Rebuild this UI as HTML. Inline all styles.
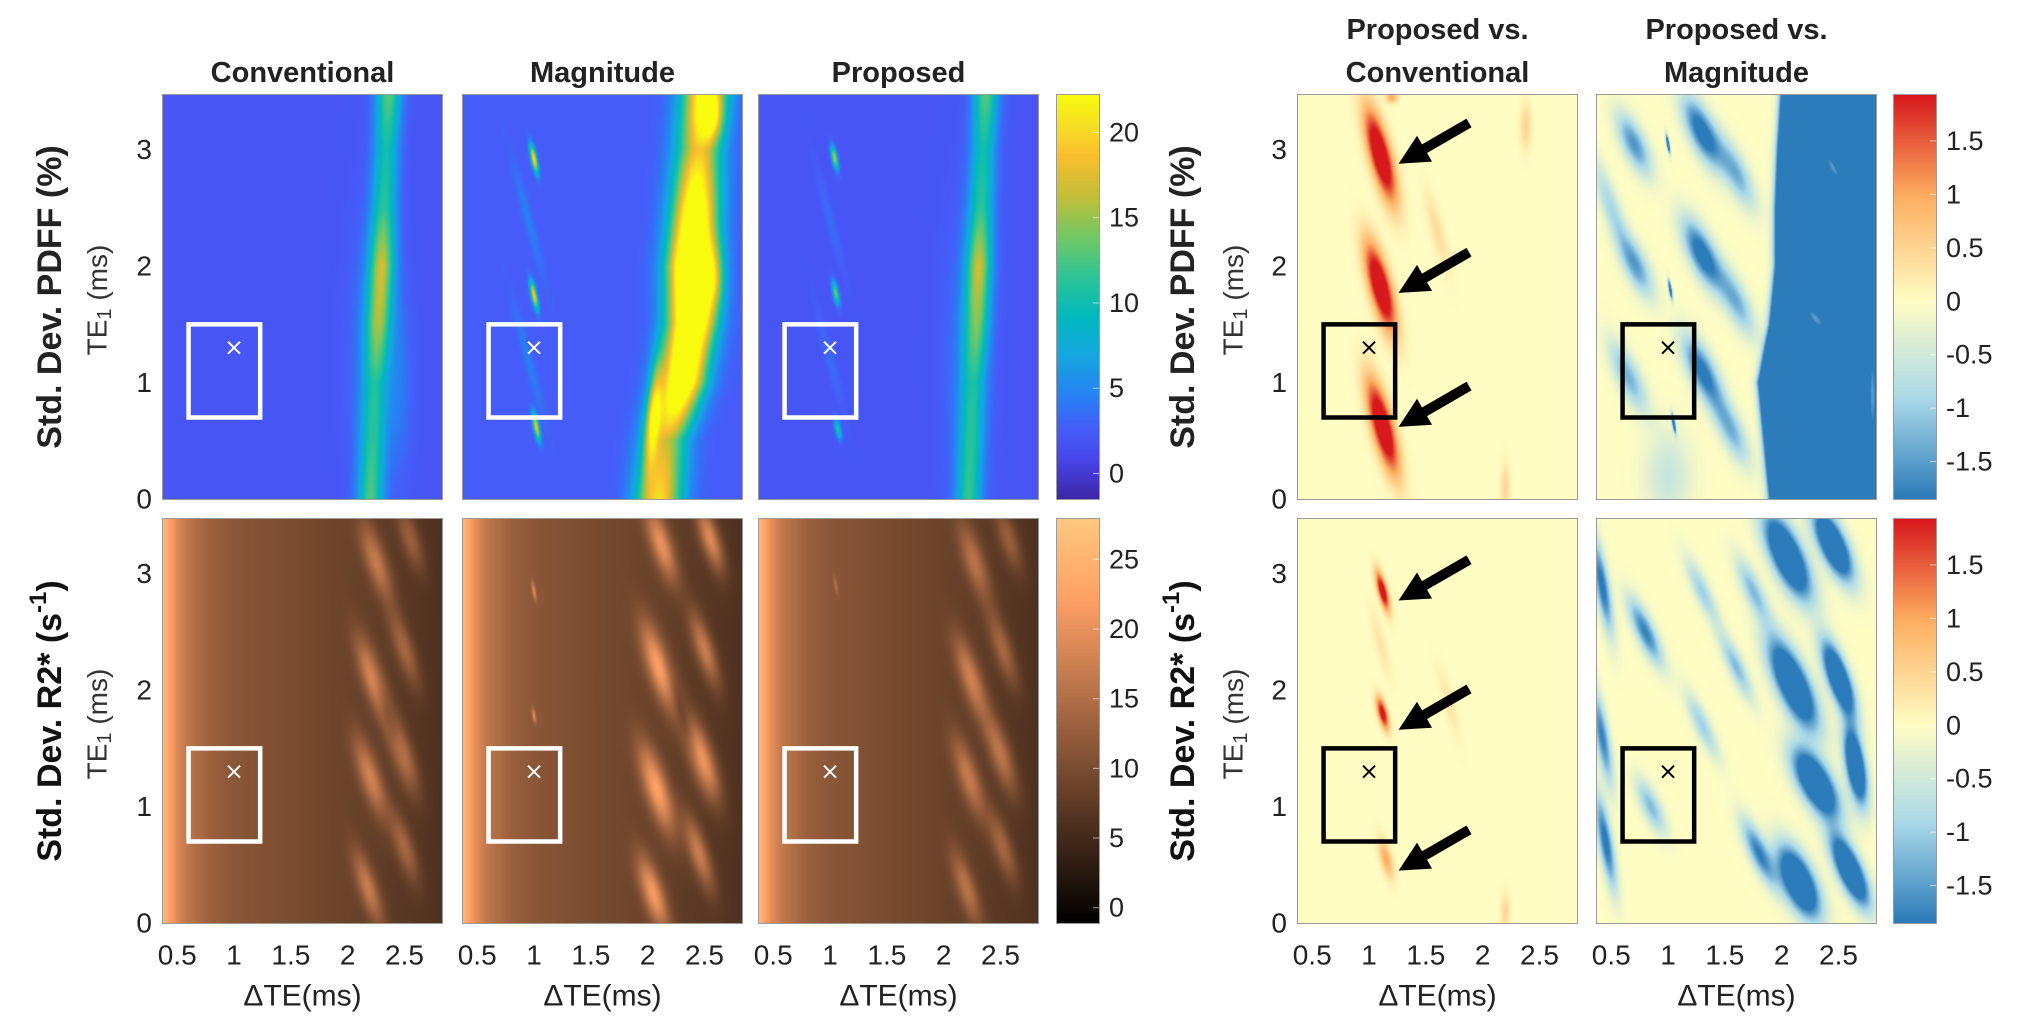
<!DOCTYPE html>
<html><head><meta charset="utf-8">
<style>
html,body{margin:0;padding:0;background:#fff;}
#root{position:relative;width:2026px;height:1030px;overflow:hidden;background:#fff;font-family:"Liberation Sans",sans-serif;}
canvas{position:absolute;display:block;}
svg{position:absolute;left:0;top:0;}
</style></head>
<body>
<div id="root">
<svg id="ov" width="2026" height="1030"></svg>
</div>
<script>
// ---------- data ----------
const xDomain=[0.375,2.83];
const yDomain=[0,3.47];
const xTicks=[0.5,1,1.5,2,2.5];
const xTickLabels=['0.5','1','1.5','2','2.5'];
const yTicks=[0,1,2,3];
const pdffRange=[-1.5,22.2];
const pdffTicks=[0,5,10,15,20];
const r2Range=[-1.1,27.9];
const r2Ticks=[0,5,10,15,20,25];
const diffRange=[-1.85,1.93];
const diffTicks=[-1.5,-1,-0.5,0,0.5,1,1.5];
const diffTickLabels=['-1.5','-1','-0.5','0','0.5','1','1.5'];
const boxX=[0.6,1.23];
const boxY=[0.7,1.5];
const markX=1.0, markY=1.3;
const bandY=[0,0.5,1,1.5,2,2.5,3,3.47];
const convBandX=[2.2,2.22,2.24,2.27,2.3,2.32,2.34,2.36];
const convBandAmp=[10,8,7,12,14,9,8,11];
const propBandX=[2.22,2.24,2.26,2.29,2.31,2.33,2.35,2.37];
const propBandAmp=[9,8,7,11,14,9,8,11];
const magBandX=[2.1,2.15,2.3,2.38,2.38,2.42,2.45,2.5];
const magBandAmp=[18,14,26,28,30,24,16,20];
const convBlobs=[[2.45,1.0,0.12,0.8,0,2],[2.2,1.2,0.2,1.2,0,2]];
const magBlobs=[[1.0,2.92,0.025,0.12,12,18],[1.0,1.75,0.025,0.12,12,17],[1.02,0.62,0.025,0.12,12,16],[0.95,2.4,0.04,0.5,15,2],[0.95,1.2,0.04,0.5,15,2],[2.05,0.7,0.06,0.45,-5,12],[2.55,3.3,0.1,0.2,0,10],[2.55,1.9,0.12,0.3,0,10]];
const propBlobs=[[1.04,2.93,0.025,0.1,12,14],[1.05,1.77,0.025,0.1,12,12],[1.07,0.6,0.025,0.09,12,9],[1.0,2.4,0.04,0.45,15,1.5],[1.0,1.2,0.04,0.45,15,1.5],[2.2,1.2,0.2,1.2,0,2]];
const r2BaseX=[0.375,0.42,0.5,0.6,0.8,1,1.5,2,2.5,2.83];
const convR2Base=[26,23,19,16,13,11.5,10,8.5,7,6];
const magR2Base=[26,23,19,16,13,11.5,10,8.5,7,6];
const propR2Base=[26,23,19,16,13,11.5,10,8.5,7,6];
const convR2Blobs=[[2.18,0.3,0.08,0.32,18,9],[2.2,1.25,0.09,0.35,18,10],[2.22,2.1,0.09,0.36,18,11],[2.25,3.1,0.09,0.34,18,9],[2.5,0.65,0.08,0.3,18,7],[2.48,1.45,0.09,0.34,18,9],[2.5,2.35,0.08,0.32,18,7],[2.55,3.3,0.08,0.28,18,6],[2.35,1.8,0.05,0.4,18,-3]];
const magR2Blobs=[[2.05,0.25,0.09,0.32,18,13],[2.08,1.15,0.1,0.38,18,14],[2.1,2.2,0.1,0.38,18,14],[2.12,3.25,0.09,0.32,18,12],[2.45,0.6,0.08,0.32,18,10],[2.48,1.4,0.1,0.35,18,14],[2.5,2.35,0.08,0.32,18,10],[2.55,3.3,0.08,0.28,18,12],[1.0,2.85,0.015,0.08,10,8],[1.0,1.78,0.015,0.06,10,8],[2.3,1.8,0.05,0.5,18,-3]];
const propR2Blobs=[[2.2,0.3,0.08,0.32,18,8],[2.22,1.25,0.09,0.35,18,9],[2.24,2.1,0.09,0.36,18,10],[2.27,3.1,0.09,0.34,18,8],[2.52,0.65,0.08,0.3,18,7],[2.5,1.45,0.09,0.34,18,9],[2.52,2.35,0.08,0.32,18,7],[2.57,3.3,0.08,0.28,18,6],[1.05,2.9,0.015,0.08,10,4]];
const diffPdffConvBlobs=[[1.1,2.95,0.09,0.4,15,2.8],[1.1,1.82,0.09,0.38,15,2.8],[1.12,0.62,0.09,0.4,15,2.8],[1.6,2.3,0.06,0.35,15,0.4],[2.38,3.2,0.05,0.2,0,0.5],[2.2,0.1,0.04,0.2,0,0.5],[1.2,3.45,0.05,0.05,0,1]];
const diffPdffMagBlobs=[[0.7,3.05,0.1,0.28,25,-1.6],[0.72,2.0,0.1,0.28,25,-1.4],[0.65,1.05,0.1,0.32,25,-1.3],[0.5,2.5,0.08,0.45,20,-0.9],[1.3,3.15,0.11,0.32,25,-2.2],[1.3,2.1,0.11,0.32,25,-2.2],[1.3,1.1,0.11,0.32,25,-2.0],[1.6,2.8,0.1,0.32,25,-1.3],[1.6,1.7,0.1,0.32,25,-1.3],[1.55,0.6,0.1,0.32,25,-1.3],[1.0,3.05,0.012,0.08,10,-3],[1.02,1.8,0.012,0.08,10,-3],[1.05,0.65,0.012,0.08,10,-3],[2.45,2.85,0.05,0.22,30,2.5],[2.3,1.55,0.07,0.2,40,2.5],[2.8,0.9,0.05,0.6,0,2.5],[1.0,0.2,0.2,0.4,0,-0.6]];
const regionY=[0,0.5,1,1.5,2,2.5,3,3.47];
const regionX=[1.9,1.85,1.8,1.9,1.95,1.95,1.97,2.0];
const diffR2ConvBlobs=[[1.12,2.85,0.04,0.17,15,2.4],[1.12,1.8,0.04,0.14,15,2.2],[1.15,0.55,0.05,0.17,15,1.0],[1.1,2.4,0.05,0.3,15,0.3],[1.7,1.9,0.05,0.3,15,0.3],[2.2,0.1,0.04,0.15,0,0.5]];
const diffR2MagBlobs=[[0.42,2.9,0.06,0.4,10,-2],[0.42,1.6,0.06,0.4,10,-1.8],[0.45,0.7,0.06,0.4,10,-2],[0.8,2.5,0.08,0.3,25,-1.8],[0.85,1.0,0.08,0.25,25,-1.2],[1.3,2.85,0.07,0.3,25,-1.0],[1.3,1.7,0.07,0.3,25,-1.0],[1.6,2.2,0.07,0.3,25,-1.2],[2.05,3.15,0.13,0.38,25,-3.5],[2.45,3.25,0.11,0.32,25,-3.5],[2.1,2.05,0.13,0.4,25,-3.5],[2.5,2.1,0.09,0.32,20,-3.5],[2.3,1.2,0.13,0.32,30,-3.5],[2.65,1.35,0.08,0.32,10,-3.5],[2.15,0.35,0.13,0.32,25,-3.5],[2.6,0.45,0.1,0.32,25,-3.5],[1.8,0.6,0.08,0.3,25,-1.8],[1.75,2.85,0.08,0.3,25,-1.2]];
const arrowTipX=1.26, arrowTailX=1.88;
const topArrowTipY=[2.88,1.77,0.62];
const botArrowTipY=[2.77,1.66,0.45];
const arrowRise=0.35;
// ---------- layout ----------
const PW=279, PH=404, ROWT=[95,519];
const COLL=[163,463,759,1298,1597];
const CBX=[1057,1894], CBW=42;
const NS='http://www.w3.org/2000/svg';
const root=document.getElementById('root'), ov=document.getElementById('ov');
function interp(xs,ys,x){if(x<=xs[0])return ys[0];for(let i=1;i<xs.length;i++){if(x<=xs[i]){const t=(x-xs[i-1])/(xs[i]-xs[i-1]);return ys[i-1]+t*(ys[i]-ys[i-1]);}}return ys[ys.length-1];}
function sx(col,x){return COLL[col]+(x-xDomain[0])/(xDomain[1]-xDomain[0])*PW;}
function sy(row,y){return ROWT[row]+PH-(y-yDomain[0])/(yDomain[1]-yDomain[0])*PH;}
function lerpStops(stops,t){t=Math.max(0,Math.min(1,t));for(let i=1;i<stops.length;i++){if(t<=stops[i][0]){const a=stops[i-1],b=stops[i],f=(t-a[0])/(b[0]-a[0]);return [a[1]+f*(b[1]-a[1]),a[2]+f*(b[2]-a[2]),a[3]+f*(b[3]-a[3])];}}const l=stops[stops.length-1];return [l[1],l[2],l[3]];}
const parula=[[0,62,38,168],[0.1,71,71,235],[0.17,70,92,248],[0.25,40,128,245],[0.35,22,165,225],[0.45,0,185,190],[0.55,45,196,150],[0.65,115,200,100],[0.75,195,190,55],[0.85,250,190,45],[0.93,246,225,35],[1,249,251,14]];
const diffMap=[[0,44,123,186],[0.25,171,217,233],[0.49,255,253,196],[0.75,253,174,97],[1,215,25,28]];
function parulaC(t){return lerpStops(parula,t);}
function copperC(t){t=Math.max(0,Math.min(1,t));return [Math.min(255,1.25*t*255),0.7812*t*255,0.4975*t*255];}
function diffC(t){return lerpStops(diffMap,t);}
function blobSum(blobs,x,y){let v=0;for(const b of blobs){const a=b[4]*Math.PI/180;const dx=x-b[0],dy=y-b[1];const u=dx*Math.cos(a)+dy*Math.sin(a);const w=-dx*Math.sin(a)+dy*Math.cos(a);v+=b[5]*Math.exp(-(u*u/(b[2]*b[2])+w*w/(b[3]*b[3])));}return v;}
function bandVal(bx,bamp,bw,x,y){const c=interp(bandY,bx,y),a=interp(bandY,bamp,y);const d=(x-c)/bw;return a*Math.exp(-d*d);}
const panels=[
 {name:'pdff-conventional',row:0,col:0,range:pdffRange,cmap:parulaC,f:(x,y)=>2+bandVal(convBandX,convBandAmp,0.11,x,y)+blobSum(convBlobs,x,y)},
 {name:'pdff-magnitude',row:0,col:1,range:pdffRange,cmap:parulaC,f:(x,y)=>2.5+bandVal(magBandX,magBandAmp,0.2,x,y)+blobSum(magBlobs,x,y)},
 {name:'pdff-proposed',row:0,col:2,range:pdffRange,cmap:parulaC,f:(x,y)=>2+bandVal(propBandX,propBandAmp,0.11,x,y)+blobSum(propBlobs,x,y)},
 {name:'r2-conventional',row:1,col:0,range:r2Range,cmap:copperC,f:(x,y)=>interp(r2BaseX,convR2Base,x)+blobSum(convR2Blobs,x,y)},
 {name:'r2-magnitude',row:1,col:1,range:r2Range,cmap:copperC,f:(x,y)=>interp(r2BaseX,magR2Base,x)+blobSum(magR2Blobs,x,y)},
 {name:'r2-proposed',row:1,col:2,range:r2Range,cmap:copperC,f:(x,y)=>interp(r2BaseX,propR2Base,x)+blobSum(propR2Blobs,x,y)},
 {name:'pdff-diff-conventional',row:0,col:3,range:diffRange,cmap:diffC,f:(x,y)=>blobSum(diffPdffConvBlobs,x,y)},
 {name:'pdff-diff-magnitude',row:0,col:4,range:diffRange,cmap:diffC,f:(x,y)=>{const bx=interp(regionY,regionX,y);const s=1/(1+Math.exp(-(x-bx)/0.02));return -4*s+blobSum(diffPdffMagBlobs,x,y);}},
 {name:'r2-diff-conventional',row:1,col:3,range:diffRange,cmap:diffC,f:(x,y)=>blobSum(diffR2ConvBlobs,x,y)},
 {name:'r2-diff-magnitude',row:1,col:4,range:diffRange,cmap:diffC,f:(x,y)=>blobSum(diffR2MagBlobs,x,y)}
];
function mkCanvas(l,t,w,h,name){const c=document.createElement('canvas');c.width=w;c.height=h;c.style.left=l+'px';c.style.top=t+'px';c.style.outline='1px solid #9a9a9a';


root.insertBefore(c,ov);return c;}
for(const p of panels){const L=COLL[p.col],T=ROWT[p.row];const c=mkCanvas(L,T,PW,PH,p.name+'-heatmap');const ctx=c.getContext('2d');const img=ctx.createImageData(PW,PH);
 for(let j=0;j<PH;j++){const y=yDomain[1]-(j+0.5)/PH*(yDomain[1]-yDomain[0]);for(let i=0;i<PW;i++){const x=xDomain[0]+(i+0.5)/PW*(xDomain[1]-xDomain[0]);const v=p.f(x,y);const col=p.cmap((v-p.range[0])/(p.range[1]-p.range[0]));const k=(j*PW+i)*4;img.data[k]=col[0];img.data[k+1]=col[1];img.data[k+2]=col[2];img.data[k+3]=255;}}
 ctx.putImageData(img,0,0);}
const cbars=[{name:'pdff-colorbar',x:CBX[0],row:0,cmap:parulaC},{name:'r2-colorbar',x:CBX[0],row:1,cmap:copperC},{name:'pdff-diff-colorbar',x:CBX[1],row:0,cmap:diffC},{name:'r2-diff-colorbar',x:CBX[1],row:1,cmap:diffC}];
for(const cb of cbars){const c=mkCanvas(cb.x,ROWT[cb.row],CBW,PH,cb.name);const ctx=c.getContext('2d');for(let j=0;j<PH;j++){const col=cb.cmap(1-j/(PH-1));ctx.fillStyle='rgb('+col.map(Math.round).join(',')+')';ctx.fillRect(0,j,CBW,1);}}
// ---------- svg helpers ----------
function el(tag,attrs,txt){const e=document.createElementNS(NS,tag);for(const k in attrs)e.setAttribute(k,attrs[k]);if(txt!==undefined)e.textContent=txt;ov.appendChild(e);return e;}
function txt(x,y,s,size,anchor,weight,name,rot){const e=el('text',{x:x,y:y,'font-size':size,'text-anchor':anchor,'dominant-baseline':'central','font-family':'Liberation Sans, sans-serif','font-weight':weight||'normal',fill:'#222'},s);if(rot)e.setAttribute('transform','rotate(-90 '+x+' '+y+')');


return e;}
// titles
const titles=[['Conventional',0],['Magnitude',1],['Proposed',2]];
for(const t of titles){txt(COLL[t[1]]+PW/2,73,t[0],29,'middle','bold','column-title-'+t[0].toLowerCase());}
txt(COLL[3]+PW/2,30,'Proposed vs.',29,'middle','bold','column-title-prop-conv-line1');
txt(COLL[3]+PW/2,73,'Conventional',29,'middle','bold','column-title-prop-conv-line2');
txt(COLL[4]+PW/2,30,'Proposed vs.',29,'middle','bold','column-title-prop-mag-line1');
txt(COLL[4]+PW/2,73,'Magnitude',29,'middle','bold','column-title-prop-mag-line2');
// y ticks
for(const r of [0,1])for(const c of [0,3])for(const v of yTicks){txt(COLL[c]-11,sy(r,v),String(v),28,'end','normal','y-tick-label');}
// x ticks & labels
for(const c of [0,1,2,3,4]){for(let i=0;i<xTicks.length;i++){txt(sx(c,xTicks[i]),955,xTickLabels[i],28,'middle','normal','x-tick-label');}
 txt(COLL[c]+PW/2,996,'\u0394TE(ms)',30,'middle','normal','x-axis-title');}
// row labels
const rlx=[[50,97],[1183,1233]];
for(const s of rlx){
 txt(s[0],297,'Std. Dev. PDFF (%)',34,'middle','bold','row-label-pdff',true);
 const b=el('text',{x:s[0],y:721,'font-size':34,'text-anchor':'middle','dominant-baseline':'central','font-family':'Liberation Sans, sans-serif','font-weight':'bold',fill:'#111',transform:'rotate(-90 '+s[0]+' '+721+')'});
 b.innerHTML='Std. Dev. R2* (s<tspan dy="-12" font-size="24">-1</tspan><tspan dy="12">)</tspan>';
 
 
 for(const yc of [300,724]){const t=el('text',{x:s[1],y:yc,'font-size':28,'text-anchor':'middle','dominant-baseline':'central','font-family':'Liberation Sans, sans-serif',fill:'#333',transform:'rotate(-90 '+s[1]+' '+yc+')'});
 t.innerHTML='TE<tspan dy="8" font-size="20">1</tspan><tspan dy="-8"> (ms)</tspan>';
 
 }
}
// colorbar ticks
function cbTicks(x,row,rng,ticks,labels,name){for(let i=0;i<ticks.length;i++){const y=ROWT[row]+PH-(ticks[i]-rng[0])/(rng[1]-rng[0])*PH;el('line',{x1:x+CBW-6,x2:x+CBW,y1:y,y2:y,stroke:'#fff','stroke-width':1,opacity:0.6});txt(x+CBW+10,y,labels[i],27,'start','normal',name);}}
cbTicks(CBX[0],0,pdffRange,pdffTicks,pdffTicks.map(String),'pdff-colorbar-tick');
cbTicks(CBX[0],1,r2Range,r2Ticks,r2Ticks.map(String),'r2-colorbar-tick');
cbTicks(CBX[1],0,diffRange,diffTicks,diffTickLabels,'diff-colorbar-tick');
cbTicks(CBX[1],1,diffRange,diffTicks,diffTickLabels,'diff-colorbar-tick');
// boxes & markers
for(const r of [0,1])for(const c of [0,1,2,3,4]){const col=c<3?'#fff':'#000';const x1=sx(c,boxX[0]),x2=sx(c,boxX[1]),y1=sy(r,boxY[1]),y2=sy(r,boxY[0]);
 const rc=el('rect',{x:x1,y:y1,width:x2-x1,height:y2-y1,fill:'none',stroke:col,'stroke-width':4.5});
 
 
 const mx=sx(c,markX),my=sy(r,markY);
 const m=el('path',{d:`M${mx-6} ${my-6}L${mx+6} ${my+6}M${mx+6} ${my-6}L${mx-6} ${my+6}`,stroke:col,'stroke-width':2});
 
 }
// arrows
function arrow(row,tipY){const x1=sx(3,arrowTailX),y1=sy(row,tipY+arrowRise),x2=sx(3,arrowTipX),y2=sy(row,tipY);const dx=x2-x1,dy=y2-y1,L=Math.hypot(dx,dy),ux=dx/L,uy=dy/L,px=-uy,py=ux;const hl=30,hw=15,sw=5;const bx=x2-ux*hl,by=y2-uy*hl;
 const d=`M${x1+px*sw} ${y1+py*sw}L${bx+px*sw} ${by+py*sw}L${bx+px*hw} ${by+py*hw}L${x2} ${y2}L${bx-px*hw} ${by-py*hw}L${bx-px*sw} ${by-py*sw}L${x1-px*sw} ${y1-py*sw}Z`;
 const a=el('path',{d:d,fill:'#000'});
 
 }
for(const t of topArrowTipY)arrow(0,t);
for(const t of botArrowTipY)arrow(1,t);
</script>
</body></html>
